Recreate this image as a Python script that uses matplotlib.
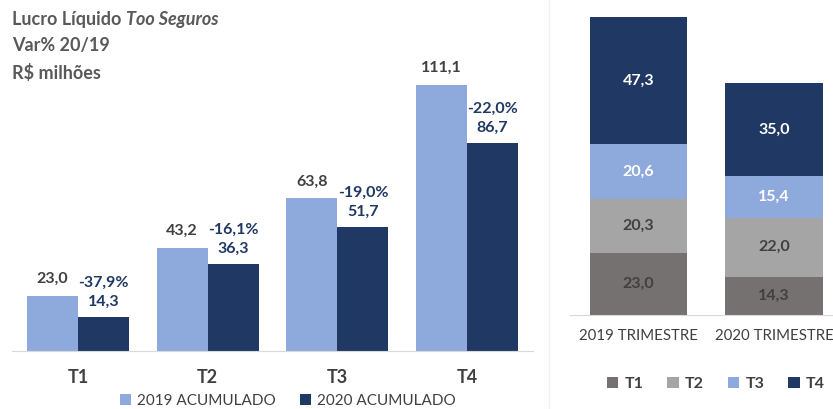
import matplotlib.pyplot as plt
import numpy as np

plt.rcParams['font.family'] = ['Lato', 'DejaVu Sans']

# dados
trimestres = ['T1', 'T2', 'T3', 'T4']
acum_2019 = [23.0, 43.2, 63.8, 111.1]
acum_2020 = [14.3, 36.3, 51.7, 86.7]
var_pct = [-37.9, -16.1, -19.0, -22.0]

anos = ['2019 TRIMESTRE', '2020 TRIMESTRE']
tri_2019 = [23.0, 20.3, 20.6, 47.3]
tri_2020 = [14.3, 22.0, 15.4, 35.0]

azul_claro = '#8EA9DB'
azul_escuro = '#203864'
cinza_esc = '#767171'
cinza_cla = '#A5A5A5'
texto = '#404040'


def br(v, d=1):
    return f'{v:.{d}f}'.replace('.', ',')


W, H = 833, 409
fig = plt.figure(figsize=(W / 100, H / 100), dpi=100)

# --- grafico acumulado ---
ax = fig.add_axes([12 / W, 1 - 351 / H, 521 / W, 341 / H])
x = np.arange(len(trimestres))
w = 0.395
ax.bar(x - w / 2, acum_2019, w, color=azul_claro, label='2019 ACUMULADO')
ax.bar(x + w / 2, acum_2020, w, color=azul_escuro, label='2020 ACUMULADO')
ax.set_xlim(-0.51, 3.51)
ax.set_ylim(0, 142.4)
for i in range(len(x)):
    ax.annotate(br(acum_2019[i]), (x[i] - w / 2, acum_2019[i]), xytext=(0, 7),
                textcoords='offset points', ha='center', va='bottom',
                fontsize=11.5, fontweight='bold', color=texto)
    ax.annotate(br(var_pct[i]) + '%\n' + br(acum_2020[i]), (x[i] + w / 2, acum_2020[i]),
                xytext=(0, 6), textcoords='offset points', ha='center', va='bottom',
                fontsize=11.5, fontweight='bold', color=azul_escuro, linespacing=1.45)
ax.set_xticks(x)
ax.set_xticklabels(trimestres, fontsize=13, fontweight='bold', color=texto)
ax.tick_params(axis='x', length=0, pad=13)
ax.set_yticks([])
for s in ['top', 'right', 'left']:
    ax.spines[s].set_visible(False)
ax.spines['bottom'].set_color('#D9D9D9')
ax.legend(loc='upper center', bbox_to_anchor=(0.53, -0.085), ncol=2, frameon=False,
          fontsize=11, handlelength=0.7, handleheight=0.7, handletextpad=0.4,
          columnspacing=1.6, labelcolor=texto)

# titulo
t1 = fig.text(12 / W, 1 - 20 / H, 'Lucro Líquido ', fontsize=13, fontweight='bold',
              color='#595959', va='center')
ax.annotate('Too Seguros', xy=(1, 0.5), xycoords=t1, va='center', ha='left',
            fontsize=13, fontweight='bold', style='italic', color='#595959',
            annotation_clip=False)
fig.text(12 / W, 1 - 46 / H, 'Var% 20/19', fontsize=13, fontweight='bold',
         color='#595959', va='center')
fig.text(12 / W, 1 - 73 / H, 'R$ milhões', fontsize=13, fontweight='bold',
         color='#595959', va='center')

# separador
fig.add_artist(plt.Line2D([549 / W, 549 / W], [0, 1], color='#F2F2F2', lw=1))

# --- grafico trimestral ---
ax2 = fig.add_axes([570 / W, 1 - 315 / H, 263 / W, 305 / H])
xs = np.arange(len(anos))
cores = [cinza_esc, cinza_cla, azul_claro, azul_escuro]
cores_txt = [texto, texto, 'white', 'white']
base = np.zeros(2)
for k in range(4):
    vals = np.array([tri_2019[k], tri_2020[k]])
    ax2.bar(xs, vals, 0.716, bottom=base, color=cores[k], label=trimestres[k])
    for j in range(2):
        ax2.text(xs[j], base[j] + vals[j] / 2, br(vals[j]), ha='center', va='center',
                 fontsize=11.5, fontweight='bold', color=cores_txt[k])
    base += vals
ax2.set_xlim(-0.505, 1.435)
ax2.set_ylim(0, 113.8)
ax2.set_xticks(xs)
ax2.set_xticklabels(anos, fontsize=10.8, color=texto)
ax2.tick_params(axis='x', length=0, pad=10)
ax2.set_yticks([])
for s in ['top', 'right', 'left']:
    ax2.spines[s].set_visible(False)
ax2.spines['bottom'].set_color('#D9D9D9')
ax2.legend(loc='upper center', bbox_to_anchor=(0.555, -0.155), ncol=4, frameon=False,
           handlelength=0.7, handleheight=0.7, handletextpad=0.4,
           columnspacing=1.5, labelcolor=texto, prop={'weight': 'bold', 'size': 11.5})

fig.savefig('out.png', dpi=100)
